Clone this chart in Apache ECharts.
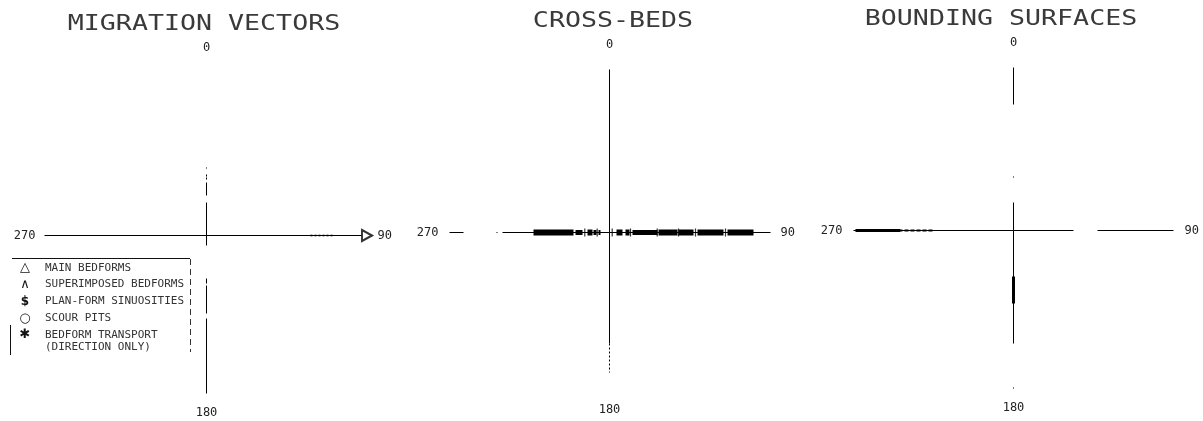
<!DOCTYPE html>
<html>
<head>
<meta charset="utf-8">
<script src="https://cdn.jsdelivr.net/npm/echarts@6/dist/echarts.min.js"></script>
<style>
  html, body { margin: 0; padding: 0; background: #fff; }
  #chart { width: 1203px; height: 421px; }
</style>
</head>
<body>
<div id="chart"></div>
<script>
// ---------- DATA ----------
const angleTicks = [0, 90, 180, 270];
const panelTitles = ['MIGRATION VECTORS', 'CROSS-BEDS', 'BOUNDING SURFACES'];

// segments: [direction (deg), from radius, to radius]
const migrationThin = [
  [0, 0, 33], [0, 40, 53], [0, 56, 58], [0, 59, 61], [0, 67, 68],
  [180, 0, 10], [180, 43, 48], [180, 50, 78], [180, 83, 158],
  [270, 0, 162], [90, 0, 155]
];
const migrationDotted = [[90, 104, 126]];
// mean vector (main bedforms): [radius, direction]
const migrationMean = [[160.5, 90]];

const crossBedsThin = [
  [0, 0, 163], [180, 0, 111], [270, 0, 107], [270, 112, 113], [270, 146, 160], [90, 0, 161]
];
const crossBedsDotted = [[180, 111, 140]];
const crossBedsThick = [
  [270, 36, 76], [270, 17, 22],
  [90, 7, 13], [90, 16, 20], [90, 49, 68], [90, 69, 84], [90, 88, 114], [90, 118, 144]
];
const crossBedsMedium = [[270, 27, 34], [270, 13, 16], [270, 9, 11], [90, 23, 48]];
// individual cross-bed readings drawn as ticks: [radius, direction]
const crossBedsTicks = [[24.7, 270], [12.3, 270], [2.7, 90], [21, 90], [47.7, 90], [69, 90], [86, 90], [116, 90]];

const boundingThin = [
  [0, 0, 28], [0, 53, 54], [0, 126, 163],
  [180, 0, 113], [180, 157, 158],
  [270, 0, 160], [90, 0, 60], [90, 84, 160]
];
const boundingThick = [[180, 46, 73], [270, 113, 158]];
const boundingDashed = [[270, 81, 113]];

const legendSymbols = ['△', '∧', '$', '○', '✱'];
const legendLabels = ['MAIN BEDFORMS', 'SUPERIMPOSED BEDFORMS', 'PLAN-FORM SINUOSITIES', 'SCOUR PITS', 'BEDFORM TRANSPORT\n(DIRECTION ONLY)'];

// ---------- LAYOUT ----------
const centers = [[206.5, 235.5], [609.5, 232.5], [1013.5, 230.5]];
const titlePos = [[204, 24], [613, 21], [1001, 19]];
const R = 168;
const MONO = "'DejaVu Sans Mono', 'Liberation Mono', monospace";
const INK = '#000';

function segSeries(data, polarIndex, width, dash) {
  return {
    type: 'custom',
    coordinateSystem: 'polar',
    polarIndex: polarIndex,
    silent: true,
    encode: { angle: 0, radius: [1, 2] },
    data: data,
    renderItem: function (params, api) {
      const a = api.value(0), r0 = api.value(1), r1 = api.value(2);
      const p0 = api.coord([r0, a]);
      const p1 = api.coord([r1 === r0 ? r1 + 1 : r1, a]);
      return {
        type: 'line',
        shape: { x1: p0[0], y1: p0[1], x2: p1[0], y2: p1[1] },
        style: { stroke: INK, lineWidth: width, lineDash: dash || null, lineCap: 'butt' }
      };
    }
  };
}

const polar = centers.map(c => ({ center: c, radius: R }));
const angleAxis = centers.map((c, i) => ({
  polarIndex: i,
  type: 'value',
  min: 0, max: 360, interval: 90,
  startAngle: 90, clockwise: true,
  axisLine: { show: false },
  axisTick: { show: false },
  splitLine: { show: false },
  axisLabel: {
    margin: 3,
    color: '#222',
    fontFamily: MONO,
    fontSize: 12,
    formatter: function (v) {
      if (angleTicks.indexOf(v) < 0) return '';
      return v === 0 ? '{top|' + v + '}' : '{n|' + v + '}';
    },
    rich: {
      top: { padding: [0, 0, 11, 0], color: '#222', fontFamily: MONO, fontSize: 12 },
      n: { color: '#222', fontFamily: MONO, fontSize: 12 }
    }
  }
}));
const radiusAxis = centers.map((c, i) => ({
  polarIndex: i, type: 'value', min: 0, max: R, show: false,
  axisLine: { show: false }, axisLabel: { show: false }, splitLine: { show: false }, axisTick: { show: false }
}));

const series = [
  segSeries(migrationThin, 0, 1),
  segSeries(migrationDotted, 0, 1.6, [2, 2]),
  {
    type: 'scatter', coordinateSystem: 'polar', polarIndex: 0, silent: true,
    data: migrationMean,
    symbol: 'emptyTriangle', symbolSize: [11, 10], symbolRotate: -90,
    itemStyle: { color: INK, borderColor: INK, borderWidth: 1.3 }
  },
  segSeries(crossBedsThin, 1, 1),
  segSeries(crossBedsDotted, 1, 1, [2, 2]),
  segSeries(crossBedsMedium, 1, 5),
  segSeries(crossBedsThick, 1, 6),
  {
    type: 'scatter', coordinateSystem: 'polar', polarIndex: 1, silent: true,
    data: crossBedsTicks,
    symbol: 'rect', symbolSize: [1.2, 8],
    itemStyle: { color: INK }
  },
  segSeries(boundingThin, 2, 1),
  segSeries(boundingThick, 2, 3),
  segSeries(boundingDashed, 2, 2, [4, 2])
];

// ---------- GRAPHIC: titles and legend ----------
const graphic = [];
panelTitles.forEach((t, i) => {
  graphic.push({
    type: 'text', x: titlePos[i][0], y: titlePos[i][1], scaleX: 1.21, silent: true,
    style: { x: 0, y: 0, text: t, fill: '#3a3a3a', font: '22px ' + MONO, textAlign: 'center', textVerticalAlign: 'middle' }
  });
});
// legend frame
graphic.push({ type: 'line', silent: true, shape: { x1: 12, y1: 258.5, x2: 190, y2: 258.5 }, style: { stroke: '#111', lineWidth: 1 } });
graphic.push({ type: 'line', silent: true, shape: { x1: 190.5, y1: 259, x2: 190.5, y2: 352 }, style: { stroke: '#333', lineWidth: 1, lineDash: [6, 4] } });
graphic.push({ type: 'line', silent: true, shape: { x1: 10.5, y1: 325, x2: 10.5, y2: 355 }, style: { stroke: '#111', lineWidth: 1 } });
legendLabels.forEach((lab, i) => {
  const yc = 268 + i * 16.75;
  graphic.push({
    type: 'text', x: 25, y: yc, silent: true,
    style: { x: 0, y: 0, text: legendSymbols[i], fill: '#111', font: (i === 2 ? 'bold 12px ' : '13px ') + "'DejaVu Sans', sans-serif", textAlign: 'center', textVerticalAlign: 'middle' }
  });
  graphic.push({
    type: 'text', x: 45, y: yc - 6, scaleX: 1.1, silent: true,
    style: { x: 0, y: 0, text: lab, fill: '#333', font: '10px ' + MONO, lineHeight: 12, textAlign: 'left', textVerticalAlign: 'top' }
  });
});

const chart = echarts.init(document.getElementById('chart'), null, { renderer: 'canvas' });
chart.setOption({
  backgroundColor: '#fff',
  animation: false,
  polar: polar,
  angleAxis: angleAxis,
  radiusAxis: radiusAxis,
  series: series,
  graphic: graphic
});
</script>
</body>
</html>
